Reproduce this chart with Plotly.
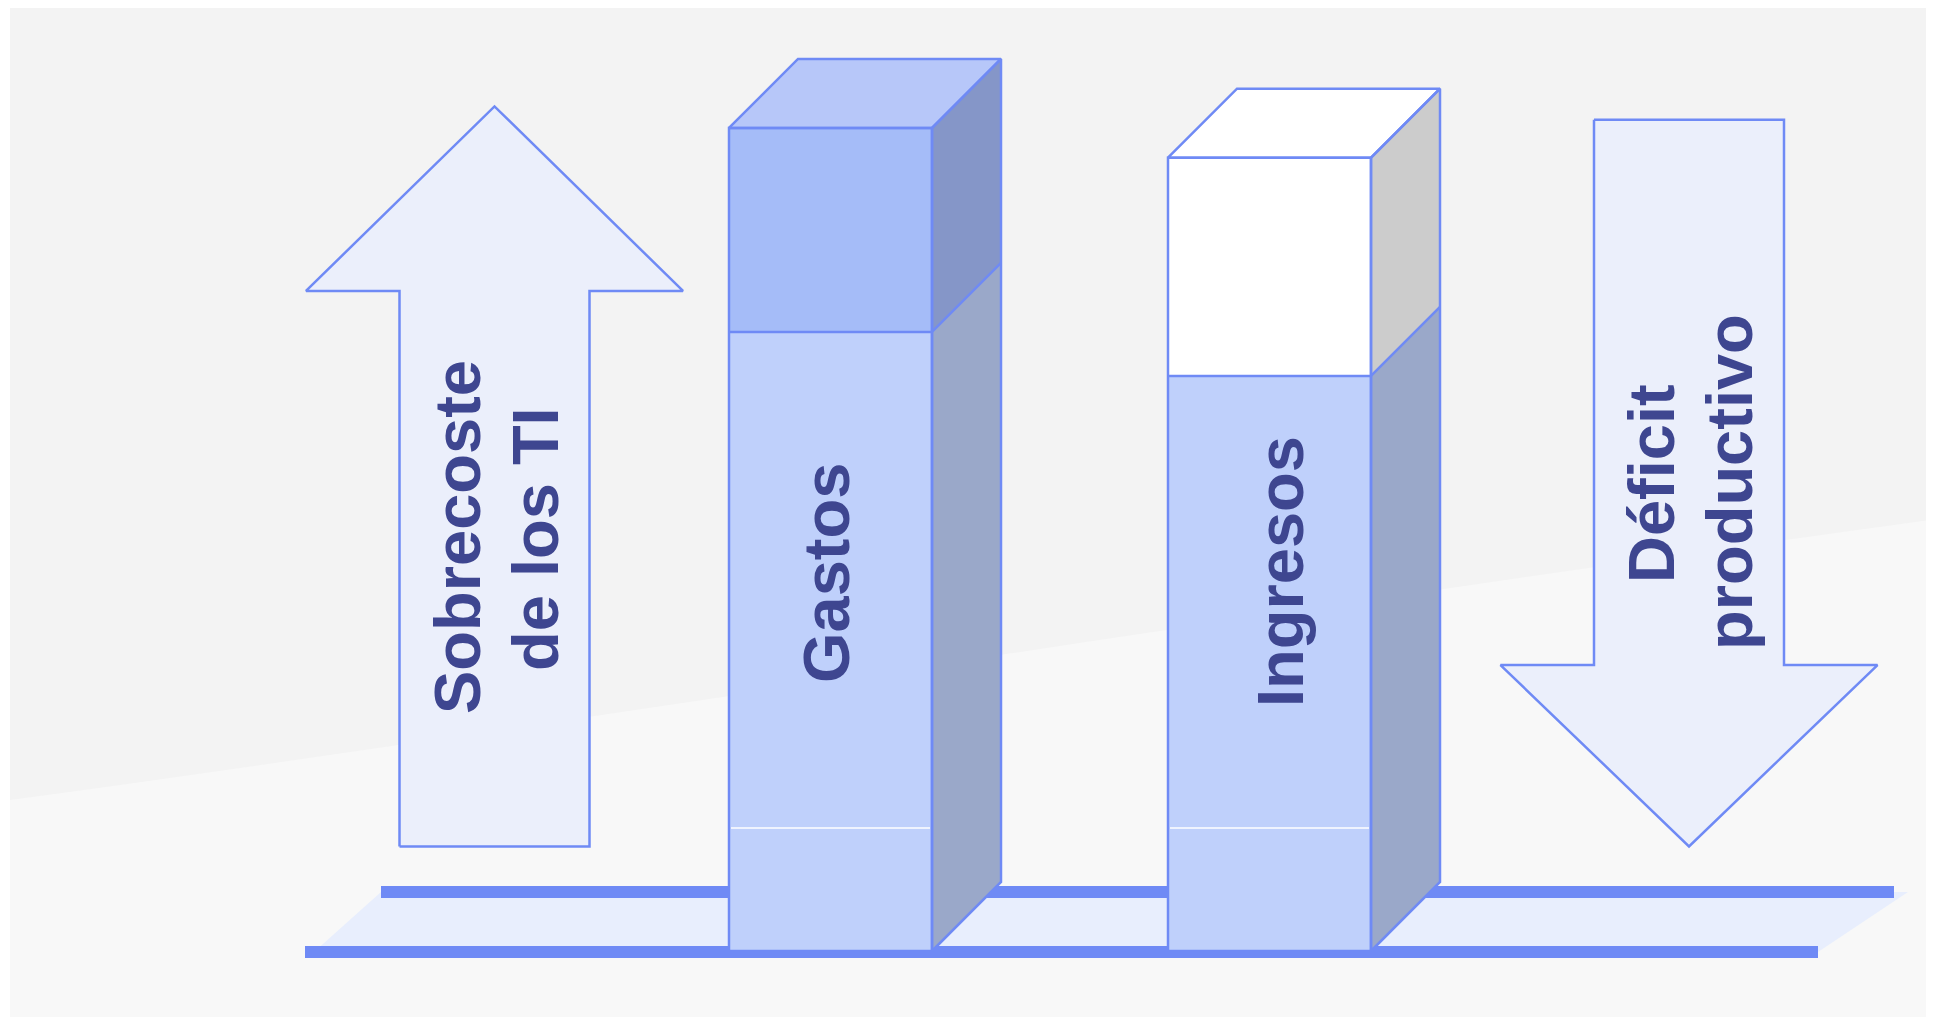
import plotly.graph_objects as go

# ---------------- data ----------------
categories = ["Gastos", "Ingresos"]
base_segment = [12.0, 12.0]
middle_segment = [48.4, 44.1]
top_segment = [19.9, 21.3]

arrow_labels = [["Sobrecoste", "de los TI"], ["Déficit", "productivo"]]
arrow_direction = ["up", "down"]
arrow_low = [10.2, 10.2]
arrow_high = [82.4, 81.1]
arrow_head_base = [64.4, 27.9]

floor_back_level = 5.76
floor_front_level = -0.1

# ---------------- layout constants ----------------
PX = 10.25                      # pixels per value unit
DEPTH_X = 69
DEPTH_Y = 69 / PX
bar_left = [729, 1168]
bar_width = 203
arrow_center = [494.5, 1689]
shaft_half = 95
head_half = 188.5

STROKE = "#6f8af5"
ARROW_FILL = "#ebeffb"
TEXT = "#3e4690"
FRONT_LOW = "#bfd0fb"
SIDE_LOW = "#9aa8c9"
FRONT_TOP = ["#a5bcf8", "#ffffff"]
TOPFACE = ["#b7c7f9", "#ffffff"]
SIDE_TOP = ["#8596c8", "#cccccc"]
FLOOR_FILL = "#e8eefd"
SW = 2.5


def yv(pix):
    return (951 - pix) / PX


fig = go.Figure()


def poly(xs, ys, fill=None, color=STROKE, width=SW):
    xs = list(xs) + [xs[0]]
    ys = list(ys) + [ys[0]]
    fig.add_trace(go.Scatter(
        x=xs, y=ys, mode="lines",
        fill="toself" if fill else None, fillcolor=fill,
        line=dict(color=color, width=width),
        hoverinfo="skip", showlegend=False))


def seg(x0, y0, x1, y1, color=STROKE, width=SW):
    fig.add_trace(go.Scatter(x=[x0, x1], y=[y0, y1], mode="lines",
                             line=dict(color=color, width=width),
                             hoverinfo="skip", showlegend=False))


# ---------------- floor ----------------
lw = 12 / PX / 2
poly([381, 1908, 1818, 314],
     [floor_back_level, floor_back_level, floor_front_level, floor_front_level],
     fill=FLOOR_FILL, color=FLOOR_FILL, width=0)
poly([381, 1894, 1894, 381],
     [floor_back_level - lw, floor_back_level - lw, floor_back_level + lw, floor_back_level + lw],
     fill=STROKE, color=STROKE, width=0)
poly([305, 1818, 1818, 305],
     [floor_front_level - lw, floor_front_level - lw, floor_front_level + lw, floor_front_level + lw],
     fill=STROKE, color=STROKE, width=0)

# ---------------- arrows ----------------
for i, d in enumerate(arrow_direction):
    c = arrow_center[i]
    lo, hi, hb = arrow_low[i], arrow_high[i], arrow_head_base[i]
    xs = [c - shaft_half, c + shaft_half, c + shaft_half, c + head_half, c,
          c - head_half, c - shaft_half]
    if d == "up":
        ys = [lo, lo, hb, hb, hi, hb, hb]
    else:
        ys = [hi, hi, hb, hb, lo, hb, hb]
    poly(xs, ys, fill=ARROW_FILL, color=STROKE, width=SW)

# ---------------- 3D stacked bars ----------------
for i, cat in enumerate(categories):
    x0 = bar_left[i]
    x1 = x0 + bar_width
    b = base_segment[i]
    m = b + middle_segment[i]
    t = m + top_segment[i]
    # side faces
    poly([x1, x1 + DEPTH_X, x1 + DEPTH_X, x1], [0, DEPTH_Y, m + DEPTH_Y, m],
         fill=SIDE_LOW, color=SIDE_LOW, width=0)
    poly([x1, x1 + DEPTH_X, x1 + DEPTH_X, x1], [m, m + DEPTH_Y, t + DEPTH_Y, t],
         fill=SIDE_TOP[i], color=SIDE_TOP[i], width=0)
    # front segments
    poly([x0, x1, x1, x0], [0, 0, m, m], fill=FRONT_LOW, color=FRONT_LOW, width=0)
    poly([x0, x1, x1, x0], [m, m, t, t], fill=FRONT_TOP[i], color=FRONT_TOP[i], width=0)
    # top face
    poly([x0, x1, x1 + DEPTH_X, x0 + DEPTH_X], [t, t, t + DEPTH_Y, t + DEPTH_Y],
         fill=TOPFACE[i], color=STROKE, width=SW)
    # separators / outlines
    seg(x0 + 2, b, x1 - 2, b, color="#ffffff", width=1.5)
    seg(x0, m, x1, m)
    seg(x1, m, x1 + DEPTH_X, m + DEPTH_Y)
    poly([x0, x1, x1, x0], [0, 0, t, t], fill=None, color=STROKE, width=SW)
    poly([x1, x1 + DEPTH_X, x1 + DEPTH_X, x1], [0, DEPTH_Y, t + DEPTH_Y, t],
         fill=None, color=STROKE, width=SW)

# ---------------- labels ----------------
FONT = dict(family="Liberation Sans, Arial, sans-serif", size=65, color=TEXT, weight=700)
label_pos = {
    "Gastos": (826, yv(573)),
    "Ingresos": (1280, yv(572)),
}
for cat in categories:
    x, y = label_pos[cat]
    fig.add_annotation(x=x, y=y, text=cat, textangle=-90, showarrow=False,
                       font=FONT, xanchor="center", yanchor="middle")

arrow_text_pos = [[(457, yv(537)), (535, yv(539))],
                  [(1651, yv(484)), (1729, yv(482))]]
for i, lines in enumerate(arrow_labels):
    for j, line in enumerate(lines):
        x, y = arrow_text_pos[i][j]
        fig.add_annotation(x=x, y=y, text=line, textangle=-90, showarrow=False,
                           font=FONT, xanchor="center", yanchor="middle")

# ---------------- background ----------------
fig.add_shape(type="rect", x0=10, x1=1930, y0=yv(1022), y1=yv(4),
              fillcolor="#f3f3f3", line_width=0, layer="below")
fig.add_shape(type="path",
              path=f"M 10 {yv(1022)} L 10 {yv(800)} C 600 {yv(720)} 1200 {yv(620)} 1930 {yv(520)} "
                   f"L 1930 {yv(1022)} Z",
              fillcolor="#f8f8f8", line_width=0, layer="below")

fig.update_layout(
    width=1918, height=1009,
    margin=dict(l=0, r=0, t=0, b=0),
    paper_bgcolor="#ffffff", plot_bgcolor="#ffffff",
    xaxis=dict(range=[8, 1926], visible=False, fixedrange=True),
    yaxis=dict(range=[yv(1017), yv(8)], visible=False, fixedrange=True),
    showlegend=False,
)

fig.write_html("out.html")
